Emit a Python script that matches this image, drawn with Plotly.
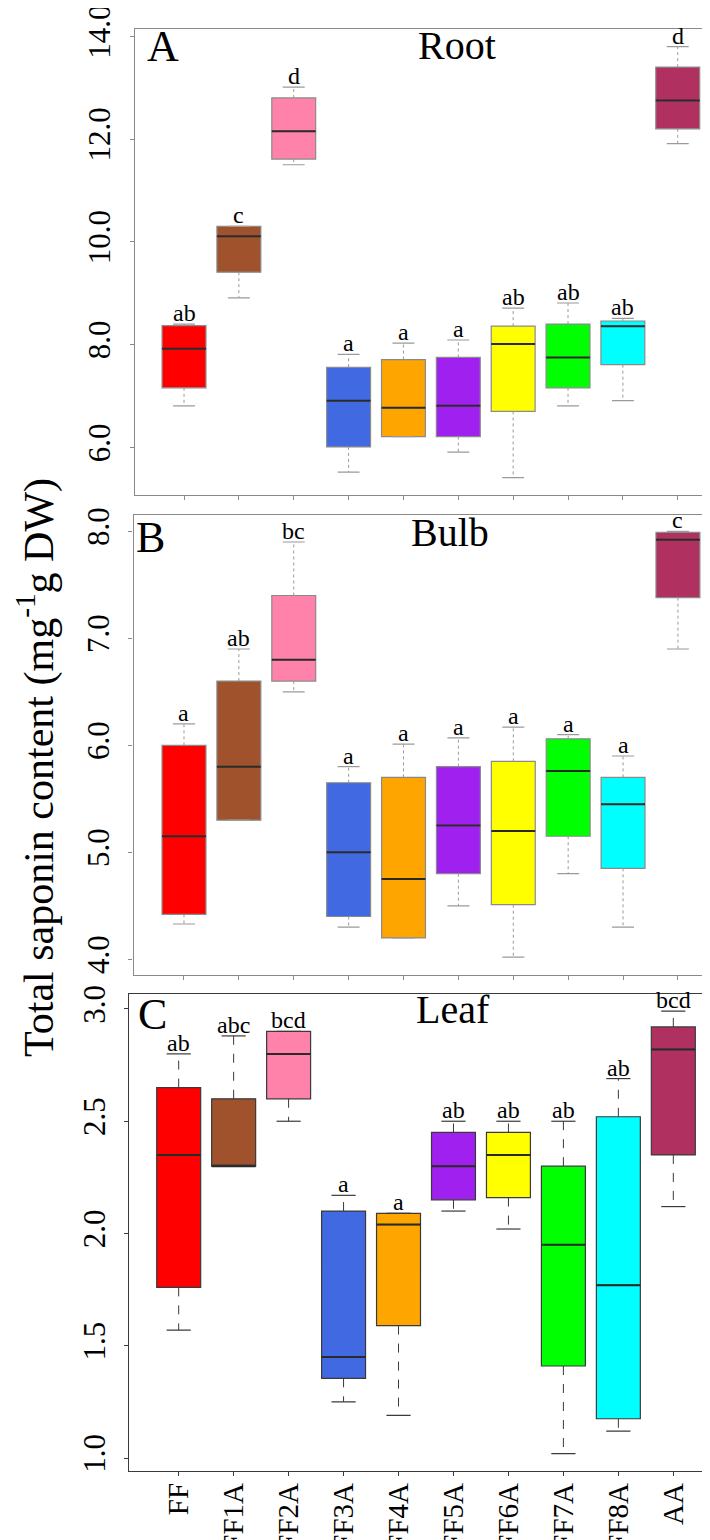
import plotly.graph_objects as go

# ---------------- data ----------------
categories = ["FF", "FF1A", "FF2A", "FF3A", "FF4A", "FF5A", "FF6A", "FF7A", "FF8A", "AA"]
box_colors = ["#FF0000", "#A0522D", "#FF82AB", "#4169E1", "#FFA500",
              "#A020F0", "#FFFF00", "#00FF00", "#00FFFF", "#B03060"]

# Root (panel A)
root_low = [6.81, 8.91, 11.50, 5.52, 6.21, 5.91, 5.41, 6.81, 6.91, 11.91]
root_q1 = [7.16, 9.41, 11.61, 6.01, 6.21, 6.21, 6.70, 7.16, 7.61, 12.20]
root_med = [7.92, 10.11, 12.15, 6.91, 6.77, 6.81, 8.01, 7.75, 8.36, 12.75]
root_q3 = [8.37, 10.30, 12.80, 7.56, 7.71, 7.75, 8.36, 8.40, 8.46, 13.40]
root_high = [8.40, 10.30, 13.01, 7.81, 8.03, 8.09, 8.71, 8.81, 8.51, 13.80]
root_letters = ["ab", "c", "d", "a", "a", "a", "ab", "ab", "ab", "d"]
root_ticks = [6, 8, 10, 12, 14]
root_ticktext = ["6.0", "8.0", "10.0", "12.0", "14.0"]

# Bulb (panel B)
bulb_low = [4.33, 5.30, 6.50, 4.30, 4.20, 4.50, 4.02, 4.80, 4.30, 6.90]
bulb_q1 = [4.42, 5.30, 6.60, 4.40, 4.20, 4.80, 4.51, 5.15, 4.85, 7.38]
bulb_med = [5.15, 5.80, 6.80, 5.00, 4.75, 5.25, 5.20, 5.76, 5.45, 7.92]
bulb_q3 = [6.00, 6.60, 7.40, 5.65, 5.70, 5.80, 5.85, 6.06, 5.70, 7.99]
bulb_high = [6.20, 6.90, 7.90, 5.80, 6.01, 6.07, 6.17, 6.10, 5.90, 8.00]
bulb_letters = ["a", "ab", "bc", "a", "a", "a", "a", "a", "a", "c"]
bulb_ticks = [4, 5, 6, 7, 8]
bulb_ticktext = ["4.0", "5.0", "6.0", "7.0", "8.0"]

# Leaf (panel C)
leaf_low = [1.57, 2.30, 2.50, 1.25, 1.19, 2.10, 2.02, 1.02, 1.12, 2.12]
leaf_q1 = [1.76, 2.30, 2.60, 1.355, 1.59, 2.15, 2.16, 1.41, 1.175, 2.35]
leaf_med = [2.35, 2.30, 2.80, 1.45, 2.04, 2.30, 2.35, 1.95, 1.77, 2.82]
leaf_q3 = [2.65, 2.60, 2.90, 2.10, 2.09, 2.45, 2.45, 2.30, 2.52, 2.92]
leaf_high = [2.80, 2.88, 2.90, 2.17, 2.09, 2.50, 2.50, 2.50, 2.69, 2.99]
leaf_letters = ["ab", "abc", "bcd", "a", "a", "ab", "ab", "ab", "ab", "bcd"]
leaf_ticks = [1.0, 1.5, 2.0, 2.5, 3.0]
leaf_ticktext = ["1.0", "1.5", "2.0", "2.5", "3.0"]

panel_letters = ["A", "B", "C"]
panel_titles = ["Root", "Bulb", "Leaf"]
y_title = "Total saponin content (mg<sup>-1</sup>g DW)"

# ---------------- layout helpers ----------------
W, H = 710, 1540
SERIF = "Liberation Serif, Times New Roman, serif"


def px_x(p):
    return p / W


def px_y(p):
    return 1 - p / H


panels = [
    dict(data=(root_low, root_q1, root_med, root_q3, root_high, root_letters),
         ticks=(root_ticks, root_ticktext), yr=[5.068, 14.136],
         dom_x=[126.7, 710], xr=[-0.899, 9.734], dom_y=[21.3, 487.3],
         frame="#8a8a8a", outline="#8a8a8a", whisk="#9a9a9a", wdash="dot",
         med="#2a2a2a", cap=0.2, labels=False,
         letter_pos=(137, 39), title_pos=(449, 37.5)),
    dict(data=(bulb_low, bulb_q1, bulb_med, bulb_q3, bulb_high, bulb_letters),
         ticks=(bulb_ticks, bulb_ticktext), yr=[3.856, 8.155],
         dom_x=[125.5, 710], xr=[-0.92, 9.73], dom_y=[506.7, 966.7],
         frame="#8a8a8a", outline="#8a8a8a", whisk="#9a9a9a", wdash="dot",
         med="#2a2a2a", cap=0.2, labels=False,
         letter_pos=(126, 530), title_pos=(442, 524)),
    dict(data=(leaf_low, leaf_q1, leaf_med, leaf_q3, leaf_high, leaf_letters),
         ticks=(leaf_ticks, leaf_ticktext), yr=[0.941, 3.068],
         dom_x=[121, 710], xr=[-0.904, 9.813], dom_y=[985.7, 1463.3],
         frame="#3a3a3a", outline="#3a3a3a", whisk="#3a3a3a", wdash="dash",
         med="#2a2a2a", cap=0.22, labels=True,
         letter_pos=(128, 1006), title_pos=(445, 1001.5)),
]

fig = go.Figure()
annotations = []
layout_axes = {}

for k, p in enumerate(panels):
    low, q1, med, q3, high, letters = p["data"]
    sfx = "" if k == 0 else str(k + 1)
    xref, yref = "x" + sfx, "y" + sfx
    pos = list(range(len(categories)))

    # whiskers (dotted / dashed)
    wx, wy = [], []
    for i in pos:
        wx += [i, i, None, i, i, None]
        wy += [q3[i], high[i], None, q1[i], low[i], None]
    fig.add_trace(go.Scatter(x=wx, y=wy, mode="lines", xaxis=xref, yaxis=yref,
                             line=dict(color=p["whisk"], width=1, dash=p["wdash"]),
                             hoverinfo="skip", showlegend=False))
    # caps
    cx, cy = [], []
    for i in pos:
        cx += [i - p["cap"], i + p["cap"], None, i - p["cap"], i + p["cap"], None]
        cy += [high[i], high[i], None, low[i], low[i], None]
    fig.add_trace(go.Scatter(x=cx, y=cy, mode="lines", xaxis=xref, yaxis=yref,
                             line=dict(color=p["whisk"], width=1.2),
                             hoverinfo="skip", showlegend=False))
    # boxes
    for i in pos:
        fig.add_trace(go.Box(x=[i], q1=[q1[i]], median=[med[i]],
                             q3=[q3[i]], lowerfence=[q1[i]], upperfence=[q3[i]],
                             width=0.8, fillcolor=box_colors[i],
                             line=dict(color=p["outline"], width=1.2),
                             boxpoints=False, xaxis=xref, yaxis=yref,
                             showlegend=False, hoverinfo="skip"))
    # medians
    mx, my = [], []
    for i in pos:
        mx += [i - 0.4, i + 0.4, None]
        my += [med[i], med[i], None]
    fig.add_trace(go.Scatter(x=mx, y=my, mode="lines", xaxis=xref, yaxis=yref,
                             line=dict(color=p["med"], width=2),
                             hoverinfo="skip", showlegend=False))

    # significance letters
    for i in pos:
        annotations.append(dict(x=i, y=high[i], xref=xref, yref=yref, text=letters[i],
                                showarrow=False, yanchor="bottom", yshift=-4,
                                font=dict(family=SERIF, size=24, color="black")))

    # panel letter and title
    lx, ly = p["letter_pos"]
    annotations.append(dict(x=px_x(lx), y=px_y(ly), xref="paper", yref="paper",
                            text=panel_letters[k], showarrow=False, xanchor="left",
                            yanchor="middle",
                            font=dict(family=SERIF, size=44, color="black")))
    tx, ty = p["title_pos"]
    annotations.append(dict(x=px_x(tx), y=px_y(ty), xref="paper", yref="paper",
                            text=panel_titles[k], showarrow=False, xanchor="center",
                            yanchor="middle",
                            font=dict(family=SERIF, size=40, color="black")))

    tv, tt = p["ticks"]
    layout_axes["xaxis" + sfx] = dict(
        domain=[px_x(p["dom_x"][0]), px_x(p["dom_x"][1])], range=p["xr"],
        anchor=yref, showgrid=False, zeroline=False,
        showline=True, linecolor=p["frame"], linewidth=1.2, mirror=True,
        ticks="outside", ticklen=4, tickcolor=p["frame"], tickwidth=1,
        tickvals=pos, ticktext=categories, showticklabels=p["labels"],
        tickangle=-90, ticklabelstandoff=-5, ticklabeloverflow="allow",
        tickfont=dict(family=SERIF, size=29, color="black"),
        automargin=False, fixedrange=True)
    layout_axes["yaxis" + sfx] = dict(
        domain=[px_y(p["dom_y"][1]), px_y(p["dom_y"][0])], range=p["yr"],
        anchor=xref, showgrid=False, zeroline=False,
        showline=True, linecolor=p["frame"], linewidth=1.2, mirror=False,
        ticks="outside", ticklen=4, tickcolor=p["frame"], tickwidth=1,
        tickvals=tv, ticktext=tt, tickangle=-90, ticklabelstandoff=7,
        ticklabeloverflow="allow",
        tickfont=dict(family=SERIF, size=31, color="black"),
        automargin=False, fixedrange=True)

annotations.append(dict(x=px_x(28), y=px_y(760), xref="paper", yref="paper",
                        text=y_title, showarrow=False, textangle=-90,
                        xanchor="center", yanchor="middle",
                        font=dict(family=SERIF, size=42, color="black")))

fig.update_layout(width=W, height=H, margin=dict(l=0, r=0, t=0, b=0),
                  paper_bgcolor="white", plot_bgcolor="white",
                  annotations=annotations, **layout_axes)

fig.write_html("out.html")
